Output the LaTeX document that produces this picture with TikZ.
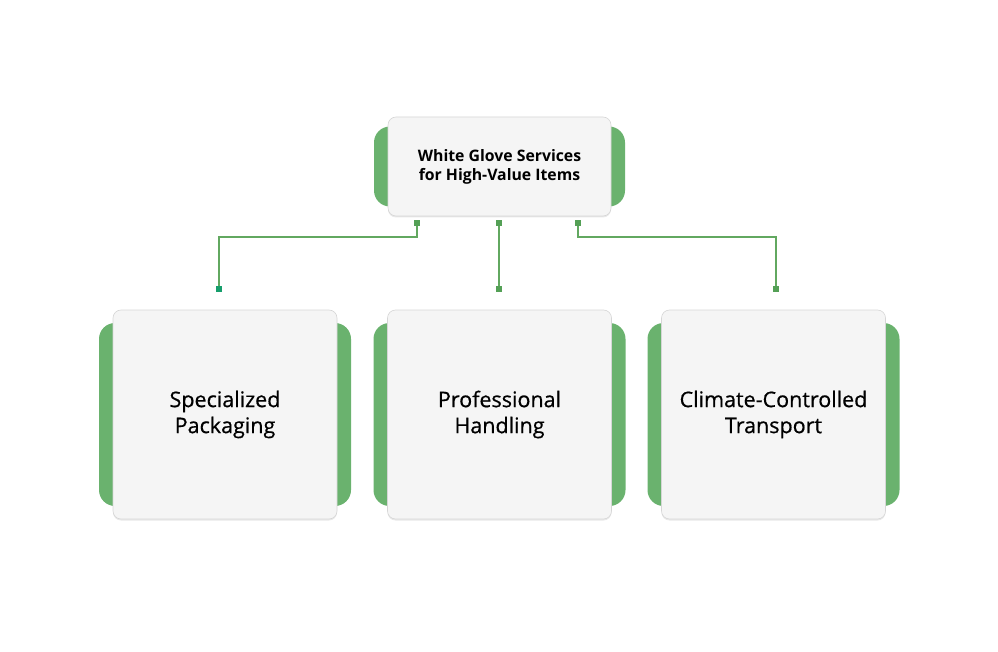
\documentclass[tikz,border=0pt]{standalone}
\usepackage{fontspec}
\setmainfont{Open Sans}
\usetikzlibrary{positioning, shadows, calc}
\definecolor{glovegreen}{RGB}{106, 178, 110}
\definecolor{linkgreen}{RGB}{98, 168, 96}
\definecolor{dotgreen}{RGB}{84, 160, 86}
\definecolor{dotteal}{RGB}{22, 158, 108}
\definecolor{cardgray}{RGB}{245, 245, 245}

\begin{document}
\begin{tikzpicture}[
    x=1pt, y=-1pt,
    card/.style={
      draw=black!16, fill=cardgray, rounded corners=8pt,
      line width=0.6pt, align=center, inner sep=0pt,
      drop shadow={opacity=0.18, shadow xshift=0pt, shadow yshift=-1.5pt}
    },
    topcard/.style={
      card, minimum width=223pt, minimum height=99pt,
      font=\fontsize{15.8}{19}\selectfont\bfseries
    },
    subcard/.style={
      card, minimum width=224pt, minimum height=209pt,
      font=\fontsize{21.5}{26}\selectfont\addfontfeature{FakeBold=0.6}
    },
    backing/.style={fill=glovegreen, rounded corners=16pt, inner sep=0pt},
    link/.style={linkgreen, line width=1.4pt},
    dot/.style={fill=dotgreen, minimum size=6.5pt, inner sep=0pt},
]
    \useasboundingbox (0,0) rectangle (998,652);

    % Green tabs behind the cards
    \node[backing, minimum width=251pt, minimum height=80pt] (tophold) at (499.5,166.5) {};
    \node[backing, minimum width=252pt, minimum height=183pt] (packhold) at (225,414.5) {};
    \node[backing, minimum width=252pt, minimum height=183pt] (handhold) at (499.5,414.5) {};
    \node[backing, minimum width=252pt, minimum height=183pt] (climhold) at (773.5,414.5) {};

    % Cards
    \node[topcard] (glove) at (tophold) {White Glove Services\\for High-Value Items};
    \node[subcard] (pack) at (packhold) {Specialized\\Packaging};
    \node[subcard] (hand) at (handhold) {Professional\\Handling};
    \node[subcard] (clim) at (climhold) {Climate-Controlled\\Transport};

    % Connector ends
    \node[dot] (gloveA) at (417,223) {};
    \node[dot] (gloveB) at (499,223) {};
    \node[dot] (gloveC) at (578,223) {};
    \node[dot, fill=dotteal] (packin) at (219,289) {};
    \node[dot] (handin) at (499,289) {};
    \node[dot] (climin) at (776,289) {};
    \coordinate (bus) at (0,237);

    % Connectors
    \draw[link] (gloveA) -- (gloveA |- bus) -- (packin |- bus) -- (packin);
    \draw[link] (gloveB) -- (handin);
    \draw[link] (gloveC) -- (gloveC |- bus) -- (climin |- bus) -- (climin);
\end{tikzpicture}
\end{document}
